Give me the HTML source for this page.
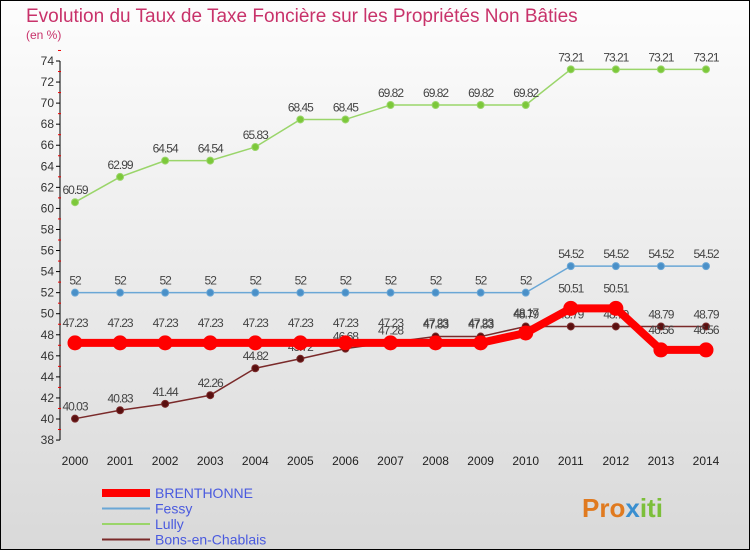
<!DOCTYPE html>
<html><head><meta charset="utf-8"><style>
html,body{margin:0;padding:0}
body{width:750px;height:550px;overflow:hidden;font-family:"Liberation Sans",sans-serif}
</style></head><body>
<svg width="750" height="550" viewBox="0 0 750 550" xmlns="http://www.w3.org/2000/svg">
<defs><linearGradient id="bg" x1="0" y1="0" x2="0" y2="1"><stop offset="0" stop-color="#fdfdfd"/><stop offset="1" stop-color="#d9d9d9"/></linearGradient></defs>
<rect x="0.5" y="0.5" width="749" height="549" fill="url(#bg)" stroke="#000"/>
<text x="26" y="22" font-size="19" fill="#c8326a">Evolution du Taux de Taxe Foncière sur les Propriétés Non Bâties</text>
<text x="26" y="39" font-size="12" fill="#c8326a">(en %)</text>
<g id="axes"></g>
<g id="series"></g>
<g id="legend"></g>
<g>
<text x="582" y="517" font-size="26" font-weight="bold" fill="#e07a1f">Pro<tspan fill="#3a8fd0">x</tspan><tspan fill="#7cbf3a">iti</tspan></text>
</g>
</svg>
<script>
const years=[2000,2001,2002,2003,2004,2005,2006,2007,2008,2009,2010,2011,2012,2013,2014];
const brenthonne=[47.23,47.23,47.23,47.23,47.23,47.23,47.23,47.23,47.23,47.23,48.17,50.51,50.51,46.56,46.56];
const fessy=[52,52,52,52,52,52,52,52,52,52,52,54.52,54.52,54.52,54.52];
const lully=[60.59,62.99,64.54,64.54,65.83,68.45,68.45,69.82,69.82,69.82,69.82,73.21,73.21,73.21,73.21];
const bons=[40.03,40.83,41.44,42.26,44.82,45.72,46.68,47.28,47.83,47.83,48.79,48.79,48.79,48.79,48.79];
const yTicks=[38,40,42,44,46,48,50,52,54,56,58,60,62,64,66,68,70,72,74];
const NS="http://www.w3.org/2000/svg";
const x=i=>75+i*(706-75)/(years.length-1);
const y=v=>419-(v-40)*(358/34);
function mk(tag,attrs,parent){const e=document.createElementNS(NS,tag);for(const k in attrs)e.setAttribute(k,attrs[k]);parent.appendChild(e);return e;}
const axes=document.getElementById('axes');
let a=mk('line',{x1:60,y1:y(74),x2:60,y2:y(38),stroke:'#000'},axes);


yTicks.forEach(t=>{
 mk('line',{x1:56,x2:60,y1:y(t),y2:y(t),stroke:'#000'},axes);
 mk('line',{x1:58,x2:61,y1:y(t+1),y2:y(t+1),stroke:'#e00'},axes);
 const tx=mk('text',{x:54,y:y(t)+4,'font-size':12,'text-anchor':'end',fill:'#333'},axes);
 tx.textContent=t;
 
 
});
years.forEach((yr,i)=>{
 const tx=mk('text',{x:x(i),y:465,'font-size':12,'text-anchor':'middle',fill:'#222'},axes);
 tx.textContent=yr;
 
 
});
const g=document.getElementById('series');
function series(vals,color,w,r,fill,name,labelDy){
 const grp=mk('g',{},g);
 
 
 mk('polyline',{points:vals.map((v,i)=>x(i)+','+y(v)).join(' '),fill:'none',stroke:color,'stroke-width':w,'stroke-linejoin':'round'},grp);
 vals.forEach((v,i)=>{
  const c=mk('circle',{cx:x(i),cy:y(v),r:r,fill:fill,stroke:color,'stroke-width':1},grp);
  
  
  const t=mk('text',{x:x(i),y:y(v)+labelDy,'font-size':12,'text-anchor':'middle',fill:'#444','letter-spacing':'-1'},grp);
  t.textContent=String(v);
  
  
 });
}
series(lully,'#9ad56a',1.5,3.5,'#7cc83a','lully',-8);
series(fessy,'#6aa7d6',1.5,3.5,'#4a90c8','fessy',-8);
series(bons,'#7a2a2a',1.5,3.5,'#5a1010','bons-en-chablais',-8);
series(brenthonne,'#ff0000',8,7,'#ff0000','brenthonne',-16);
const L=document.getElementById('legend');
const items=[['BRENTHONNE','#ff0000',8],['Fessy','#6aa7d6',2],['Lully','#9ad56a',2],['Bons-en-Chablais','#7a2a2a',2]];
items.forEach((it,i)=>{
 const yy=493+i*15.5;
 mk('line',{x1:102,x2:150,y1:yy,y2:yy,stroke:it[1],'stroke-width':it[2]},L);
 const t=mk('text',{x:155,y:yy+5,'font-size':14,fill:'#4a5adf'},L);
 t.textContent=it[0];
 
 
});
</script>
</body></html>
